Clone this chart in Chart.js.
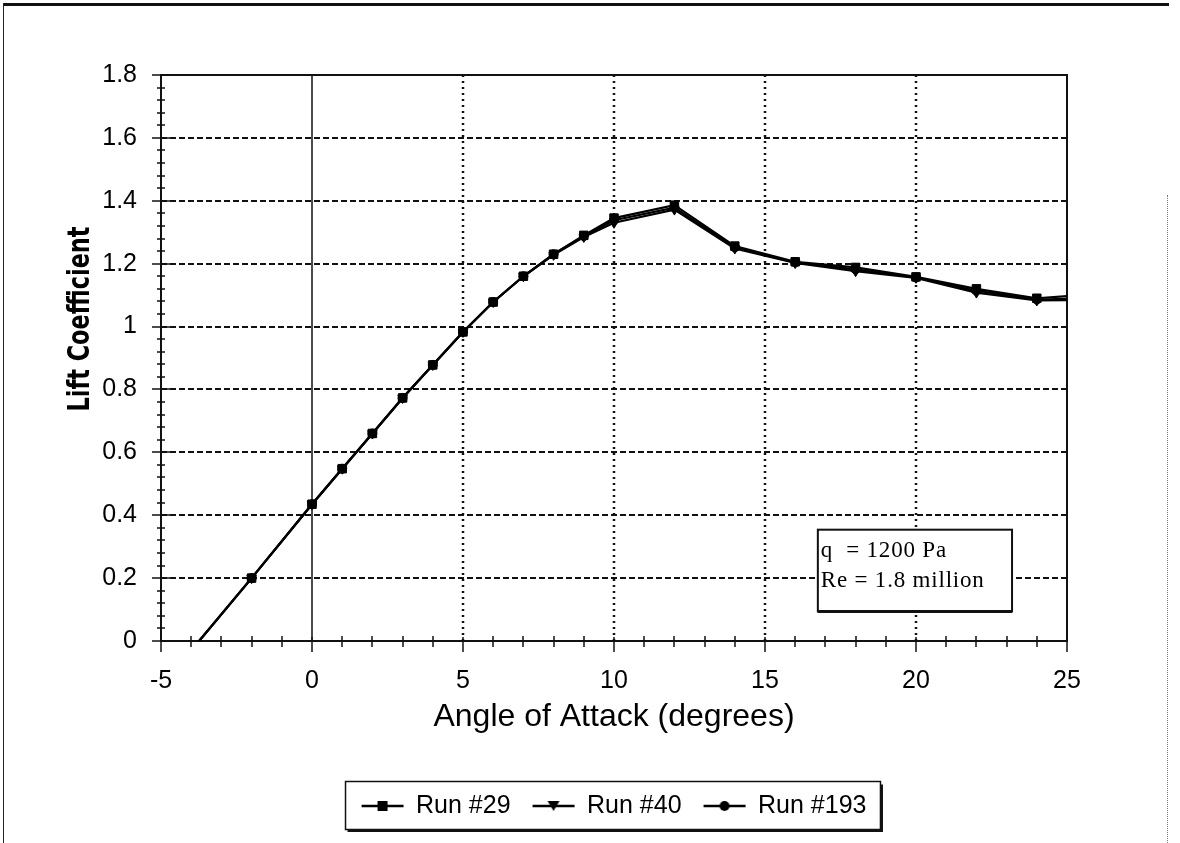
<!DOCTYPE html>
<html>
<head>
<meta charset="utf-8">
<title>Lift Coefficient vs Angle of Attack</title>
<script src="https://cdn.jsdelivr.net/npm/chart.js"></script>
<style>
  html, body { margin: 0; padding: 0; background: #fff; }
  #page { position: relative; width: 1180px; height: 843px; overflow: hidden; }
  #page canvas { position: absolute; left: 0; top: 0; }
  .edge-top { position: absolute; left: 3px; top: 3px; width: 1166px; height: 3px; background: #111; }
  .edge-left { position: absolute; left: 3px; top: 3px; width: 1px; height: 840px; background: #222; }
  .edge-right { position: absolute; left: 1167px; top: 195px; width: 1px; height: 648px; border-left: 1px dotted #777; }
</style>
</head>
<body>
<div id="page">
  <canvas id="lift" width="1180" height="843"></canvas>
  <div class="edge-top"></div>
  <div class="edge-left"></div>
  <div class="edge-right"></div>
</div>
<script>
// angle of attack, degrees (first and last points run past the axes and get clipped)
const angles = [-4, -2, 0, 1, 2, 3, 4, 5, 6, 7, 8, 9, 10, 12, 14, 16, 18, 20, 22, 24, 26];
const run29  = [-0.03, 0.20, 0.435, 0.548, 0.66, 0.773, 0.878, 0.983, 1.078, 1.16, 1.23, 1.29, 1.345, 1.386, 1.256, 1.206, 1.188, 1.158, 1.12, 1.09, 1.104];
const run40  = [-0.03, 0.20, 0.435, 0.548, 0.66, 0.773, 0.878, 0.983, 1.078, 1.16, 1.228, 1.285, 1.33, 1.372, 1.248, 1.202, 1.176, 1.155, 1.108, 1.083, 1.085];
const run193 = [-0.03, 0.20, 0.435, 0.548, 0.66, 0.773, 0.878, 0.983, 1.078, 1.16, 1.23, 1.288, 1.338, 1.378, 1.252, 1.204, 1.182, 1.156, 1.114, 1.086, 1.09];
const seriesNames = ['Run #29', 'Run #40', 'Run #193'];
const seriesMarks = ['rect', 'triangle', 'circle'];
const noteLines = ['q  = 1200 Pa', 'Re = 1.8 million'];
const yTitle = 'Lift Coefficient';

Chart.defaults.font.family = "'Liberation Sans', Arial, sans-serif";
Chart.defaults.color = '#000';

function pts(ys) {
  return angles.map((a, i) => ({x: a, y: ys[i]}));
}

// little "line with marker" pictures for the legend
function legendIcon(style) {
  const c = document.createElement('canvas');
  c.width = 44; c.height = 14;
  const g = c.getContext('2d');
  g.strokeStyle = '#000'; g.fillStyle = '#000'; g.lineWidth = 2.5;
  g.beginPath(); g.moveTo(1, 7); g.lineTo(43, 7); g.stroke();
  g.beginPath();
  if (style === 'rect') g.rect(17, 2, 10, 10);
  else if (style === 'triangle') { g.moveTo(16, 2); g.lineTo(28, 2); g.lineTo(22, 12); g.closePath(); }
  else g.arc(22, 7, 5, 0, Math.PI * 2);
  g.fill();
  return c;
}
const icons = seriesMarks.map(legendIcon);

const paperGrid = {
  id: 'paperGrid',
  beforeDatasetsDraw(chart) {
    const {ctx, chartArea: a, scales: {x, y}} = chart;
    ctx.save();
    ctx.strokeStyle = '#111';
    // dashed horizontal lines
    ctx.lineWidth = 2;
    ctx.setLineDash([6, 3]);
    y.ticks.forEach(t => {
      if (t.value <= y.min || t.value >= y.max) return;
      const py = Math.round(y.getPixelForValue(t.value));
      ctx.beginPath(); ctx.moveTo(a.left, py); ctx.lineTo(a.right, py); ctx.stroke();
    });
    // dotted verticals
    ctx.setLineDash([2, 4]);
    ctx.lineWidth = 2.5;
    x.ticks.forEach(t => {
      if (t.value <= x.min || t.value >= x.max || t.value === 0) return;
      const px = Math.round(x.getPixelForValue(t.value));
      ctx.beginPath(); ctx.moveTo(px, a.top); ctx.lineTo(px, a.bottom); ctx.stroke();
    });
    ctx.setLineDash([]);
    // zero line
    ctx.lineWidth = 1.5;
    const x0 = Math.round(x.getPixelForValue(0));
    ctx.beginPath(); ctx.moveTo(x0, a.top); ctx.lineTo(x0, a.bottom); ctx.stroke();
    // frame
    ctx.lineWidth = 2;
    ctx.beginPath();
    ctx.moveTo(a.left, a.bottom); ctx.lineTo(a.left, a.top); ctx.lineTo(a.right, a.top);
    ctx.lineTo(a.right, a.bottom); ctx.lineTo(a.left, a.bottom);
    ctx.stroke();
    // minor / major tick marks
    ctx.lineWidth = 1.5;
    for (let i = 0; i <= 45; i++) {
      const py = Math.round(y.getPixelForValue(i * 0.04));
      const major = i % 5 === 0;
      ctx.beginPath();
      ctx.moveTo(a.left - (major ? 9 : 4), py);
      ctx.lineTo(a.left + (major ? 10 : 4), py);
      ctx.stroke();
    }
    for (let v = -5; v <= 25; v++) {
      const px = Math.round(x.getPixelForValue(v));
      const major = v % 5 === 0;
      ctx.beginPath();
      ctx.moveTo(px, a.bottom - (major ? 4 : 5));
      ctx.lineTo(px, a.bottom + (major ? 11 : 6));
      ctx.stroke();
    }
    // y axis title, narrow and tall
    ctx.fillStyle = '#000';
    ctx.font = "bold 30px 'DejaVu Sans Condensed', 'Liberation Sans Narrow', sans-serif";
    const w = ctx.measureText(yTitle).width;
    ctx.translate(80, 319);
    ctx.rotate(-Math.PI / 2);
    ctx.scale(185 / w, 1);
    ctx.textAlign = 'center';
    ctx.textBaseline = 'middle';
    ctx.fillText(yTitle, 0, 1);
    ctx.restore();
  },
  afterDraw(chart) {
    const {ctx, scales: {x, y}, legend} = chart;
    ctx.save();
    // note box
    const l = x.getPixelForValue(16.75), r = x.getPixelForValue(23.18);
    const t = y.getPixelForValue(0.354), b = y.getPixelForValue(0.094);
    ctx.fillStyle = '#fff';
    ctx.fillRect(l, t, r - l, b - t);
    ctx.strokeStyle = '#111';
    ctx.lineWidth = 2;
    ctx.strokeRect(l, t, r - l, b - t);
    ctx.lineWidth = 3;
    ctx.beginPath(); ctx.moveTo(l, b); ctx.lineTo(r, b); ctx.stroke();
    ctx.fillStyle = '#000';
    ctx.font = "23px 'Liberation Serif', 'Times New Roman', serif";
    ctx.letterSpacing = '0.8px';
    ctx.textBaseline = 'alphabetic';
    noteLines.forEach((s, i) => ctx.fillText(s, l + 3, t + 27 + i * 30));
    ctx.letterSpacing = '0px';
    // legend frame
    if (legend && legend.legendHitBoxes && legend.legendHitBoxes.length) {
      const hb = legend.legendHitBoxes;
      const bl = Math.min(...hb.map(h => h.left)) - 16;
      const br = Math.max(...hb.map(h => h.left + h.width)) + 14;
      const bt = hb[0].top - 12, bb = hb[0].top + hb[0].height + 11;
      ctx.strokeStyle = '#111';
      ctx.lineWidth = 1.5;
      ctx.strokeRect(bl, bt, br - bl, bb - bt);
      ctx.lineWidth = 3;
      ctx.beginPath(); ctx.moveTo(bl + 2, bb + 1); ctx.lineTo(br + 1, bb + 1); ctx.lineTo(br + 1, bt + 3); ctx.stroke();
    }
    ctx.restore();
  }
};

function mkSet(i, ys) {
  return {
    label: seriesNames[i],
    data: pts(ys),
    borderColor: '#000',
    backgroundColor: '#000',
    borderWidth: 2.2,
    pointStyle: seriesMarks[i],
    pointRotation: seriesMarks[i] === 'triangle' ? 180 : 0,
    pointRadius: seriesMarks[i] === 'rect' ? 6 : (seriesMarks[i] === 'triangle' ? 5.5 : 4.5),
    pointBackgroundColor: '#000',
    pointBorderColor: '#000',
    pointBorderWidth: 1,
    tension: 0
  };
}

new Chart(document.getElementById('lift'), {
  type: 'line',
  data: { datasets: [mkSet(0, run29), mkSet(1, run40), mkSet(2, run193)] },
  options: {
    responsive: false,
    animation: false,
    layout: { padding: { left: 62, right: 113, top: 75, bottom: 14.5 } },
    plugins: {
      tooltip: { enabled: false },
      legend: {
        position: 'bottom',
        fullSize: false,
        labels: {
          usePointStyle: true,
          pointStyleWidth: 42,
          padding: 22,
          font: { size: 25 },
          color: '#000',
          generateLabels(chart) {
            const items = Chart.defaults.plugins.legend.labels.generateLabels(chart);
            items.forEach((it, i) => { it.pointStyle = icons[i]; it.rotation = 0; });
            return items;
          }
        }
      }
    },
    scales: {
      x: {
        type: 'linear',
        min: -5, max: 25,
        ticks: { stepSize: 5, padding: 25, font: { size: 25 }, color: '#000' },
        grid: { display: false, drawTicks: false },
        border: { display: true, color: '#111', width: 2 },
        title: { display: true, text: 'Angle of Attack (degrees)', font: { size: 32 }, color: '#000', padding: { top: 0, bottom: 35 } },
        afterFit(s) { s.height = 130.5; }
      },
      y: {
        type: 'linear',
        min: 0, max: 1.8,
        ticks: { stepSize: 0.2, padding: 24, font: { size: 25 }, color: '#000',
          callback: v => Math.round(v * 10) / 10 },
        grid: { display: false, drawTicks: false },
        border: { display: true, color: '#111', width: 2 },
        afterFit(s) { s.width = 99; }
      }
    }
  },
  plugins: [paperGrid]
});
</script>
</body>
</html>
